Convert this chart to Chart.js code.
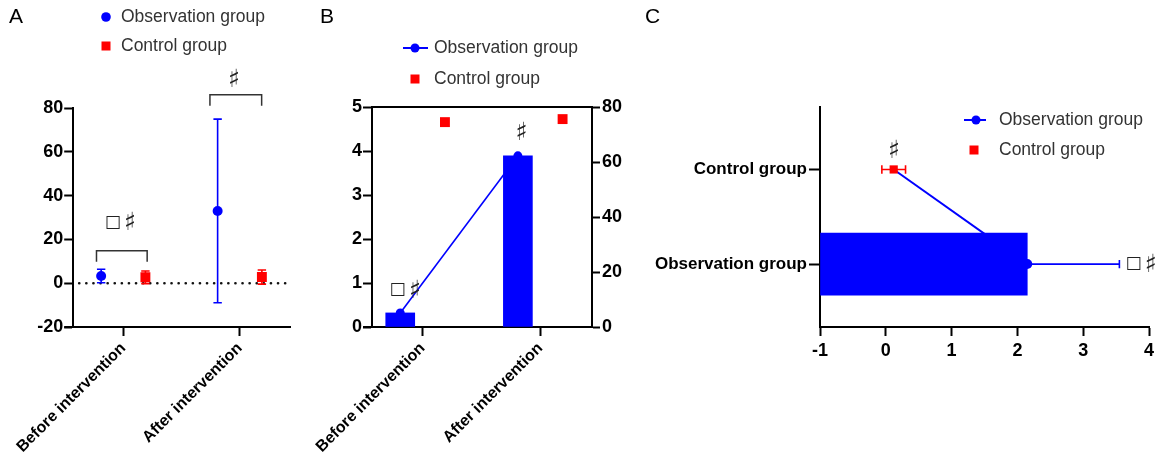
<!DOCTYPE html>
<html><head><meta charset="utf-8">
<script src="https://cdn.jsdelivr.net/npm/chart.js@4.4.1/dist/chart.umd.min.js"></script>
<style>
html,body{margin:0;padding:0;background:#fff;}
#wrap{position:relative;width:1159px;height:460px;overflow:hidden;background:#fff;}
#wrap canvas{position:absolute;left:0;top:0;}
</style></head><body>
<div id="wrap">
<canvas id="cA" width="1159" height="460"></canvas>
<canvas id="cB" width="1159" height="460"></canvas>
<canvas id="cC" width="1159" height="460"></canvas>
</div>
<script>
// ---------------- DATA ----------------
const timeCategories = ['Before intervention', 'After intervention'];
const groupCategories = ['Observation group', 'Control group'];
// Panel A (mean ± SD)
const aObsMean = [3.3, 33.0];
const aObsSD   = [3.1, 41.9];
const aCtrlMean = [2.7, 2.8];
const aCtrlSD   = [2.9, 3.2];
const aYTicks = [-20, 0, 20, 40, 60, 80];
// Panel B
const bObsValues = [0.32, 3.89];     // left axis (bars + line)
const bCtrlValues = [74.5, 75.6];    // right axis
const bLeftTicks = [0, 1, 2, 3, 4, 5];
const bRightTicks = [0, 20, 40, 60, 80];
// Panel C (index by groupCategories)
const cMean = [2.15, 0.12];
const cSD   = [1.40, 0.18];
const cXTicks = [-1, 0, 1, 2, 3, 4];

// ---------------- STYLE ----------------
const FONT = '"Liberation Sans", Arial, Helvetica, sans-serif';
const SYM_FONT = '"DejaVu Sans", sans-serif';
const BLUE = '#0000FF', RED = '#FF0000', INK = '#000';
const DODGE = 0.19;
Chart.defaults.font.family = FONT;
Chart.defaults.color = INK;
Chart.defaults.animation = false;
Chart.defaults.plugins.legend.display = false;
Chart.defaults.plugins.tooltip.enabled = false;

const tickFont = {family: FONT, size: 18, weight: 'bold'};
const cTickFont = {family: FONT, size: 17, weight: 'bold'};
const catFont = {family: FONT, size: 16, weight: 'bold'};
const axisBorder = {display: true, color: INK, width: 2};
function gridTicks(len) {
  return {display: true, drawOnChartArea: false, drawTicks: true, tickLength: len, tickWidth: 2, tickColor: INK, offset: false};
}
function setTicks(arr) { return (s) => { s.ticks = arr.map(v => ({value: v})); }; }

// ---------------- helpers ----------------
function drawLegend(ctx, items) {
  ctx.save();
  ctx.font = '17.5px ' + FONT;
  ctx.textBaseline = 'middle';
  ctx.textAlign = 'left';
  items.forEach(it => {
    ctx.fillStyle = it.color; ctx.strokeStyle = it.color;
    if (it.kind === 'line') {
      ctx.lineWidth = 2;
      ctx.beginPath(); ctx.moveTo(it.lx0, it.y); ctx.lineTo(it.lx1, it.y); ctx.stroke();
      ctx.beginPath(); ctx.arc(it.mx, it.y, 4.5, 0, Math.PI * 2); ctx.fill();
    } else if (it.kind === 'circle') {
      ctx.beginPath(); ctx.arc(it.mx, it.y, 4.8, 0, Math.PI * 2); ctx.fill();
    } else {
      ctx.fillRect(it.mx - 4.5, it.y - 4.5, 9, 9);
    }
    ctx.fillStyle = '#333';
    ctx.fillText(it.text, it.tx, it.y + 0.5);
  });
  ctx.restore();
}
function drawLetter(ctx, t, x, y) {
  ctx.save(); ctx.font = '21px ' + FONT; ctx.fillStyle = INK;
  ctx.textBaseline = 'middle'; ctx.textAlign = 'left';
  ctx.fillText(t, x, y); ctx.restore();
}
function symFont(ch) { return ch === '\u266F' ? '25px ' + SYM_FONT : '17px ' + SYM_FONT; }
function drawTexts(chart, xs, ys, texts) {
  const ctx = chart.ctx;
  ctx.save(); ctx.fillStyle = '#222';
  ctx.textAlign = 'left'; ctx.textBaseline = 'middle';
  texts.forEach(t => {
    const chars = Array.from(t.text);
    const gap = 3;
    let total = 0;
    const widths = chars.map(c => { ctx.font = symFont(c); const w = ctx.measureText(c).width; total += w; return w; });
    total += gap * (chars.length - 1);
    let x = xs.getPixelForValue(t.x) - total / 2;
    const y = ys.getPixelForValue(t.y);
    chars.forEach((c, i) => {
      ctx.font = symFont(c);
      ctx.fillText(c, x, y + (c === '\u266F' ? 1 : 0));
      x += widths[i] + gap;
    });
  });
  ctx.restore();
}
function errorBars(chart, dsIndex, sd, color, horizontal, cap, width) {
  const meta = chart.getDatasetMeta(dsIndex);
  const ds = chart.data.datasets[dsIndex];
  const ctx = chart.ctx;
  const vScale = horizontal ? chart.scales[meta.xAxisID] : chart.scales[meta.yAxisID];
  ctx.save(); ctx.strokeStyle = color; ctx.lineWidth = width;
  meta.data.forEach((el, i) => {
    const raw = ds.data[i];
    const v = horizontal ? raw.x : raw.y;
    const lo = vScale.getPixelForValue(v - sd[i]);
    const hi = vScale.getPixelForValue(v + sd[i]);
    ctx.beginPath();
    if (horizontal) {
      const y = el.y;
      ctx.moveTo(lo, y); ctx.lineTo(hi, y);
      ctx.moveTo(lo, y - cap); ctx.lineTo(lo, y + cap);
      ctx.moveTo(hi, y - cap); ctx.lineTo(hi, y + cap);
    } else {
      const x = el.x;
      ctx.moveTo(x, lo); ctx.lineTo(x, hi);
      ctx.moveTo(x - cap, lo); ctx.lineTo(x + cap, lo);
      ctx.moveTo(x - cap, hi); ctx.lineTo(x + cap, hi);
    }
    ctx.stroke();
  });
  ctx.restore();
}

// ---------------- PANEL A ----------------
const aBrackets = [
  {from: -0.23, to: 0.205, top: 14.8},
  {from: 0.744, to: 1.188, top: 86.1}
];
const aTexts = [
  {x: -0.026, y: 27.7, text: '\u25A1\u266F'},
  {x: 0.949, y: 93.2, text: '\u266F'}
];
const pluginA = {
  id: 'panelA',
  beforeDatasetsDraw(chart) {
    const ctx = chart.ctx, a = chart.chartArea, ys = chart.scales.y;
    const y0 = ys.getPixelForValue(0);
    ctx.save(); ctx.strokeStyle = '#111'; ctx.lineWidth = 2.6; ctx.lineCap = 'round';
    ctx.setLineDash([0.1, 7]);
    ctx.beginPath(); ctx.moveTo(a.left + 6, y0); ctx.lineTo(a.right, y0); ctx.stroke();
    ctx.restore();
    errorBars(chart, 0, aObsSD, BLUE, false, 4.2, 1.6);
    errorBars(chart, 1, aCtrlSD, RED, false, 4.2, 1.6);
  },
  afterDraw(chart) {
    const ctx = chart.ctx, a = chart.chartArea, xs = chart.scales.x, ys = chart.scales.y;
    ctx.save(); ctx.strokeStyle = INK; ctx.lineWidth = 2;
    ctx.beginPath(); ctx.moveTo(a.left - 9, a.bottom); ctx.lineTo(a.left, a.bottom); ctx.stroke();
    ctx.strokeStyle = '#333'; ctx.lineWidth = 1.5;
    aBrackets.forEach(b => {
      const x0 = xs.getPixelForValue(b.from), x1 = xs.getPixelForValue(b.to), y = ys.getPixelForValue(b.top);
      ctx.beginPath(); ctx.moveTo(x0, y + 11); ctx.lineTo(x0, y); ctx.lineTo(x1, y); ctx.lineTo(x1, y + 11); ctx.stroke();
    });
    ctx.restore();
    drawTexts(chart, xs, ys, aTexts);
    drawLetter(ctx, 'A', 9, 17);
    drawLegend(ctx, [
      {kind: 'circle', color: BLUE, mx: 106, tx: 121, y: 17, text: groupCategories[0]},
      {kind: 'rect', color: RED, mx: 106, tx: 121, y: 46, text: groupCategories[1]}
    ]);
  }
};
new Chart(document.getElementById('cA'), {
  type: 'scatter',
  data: {
    datasets: [
      {label: groupCategories[0], data: aObsMean.map((v, i) => ({x: i - DODGE, y: v})),
       backgroundColor: BLUE, borderColor: BLUE, pointStyle: 'circle', pointRadius: 5, borderWidth: 0},
      {label: groupCategories[1], data: aCtrlMean.map((v, i) => ({x: i + DODGE, y: v})),
       backgroundColor: RED, borderColor: RED, pointStyle: 'rect', pointRadius: 7, borderWidth: 0}
    ]
  },
  options: {
    responsive: false,
    layout: {autoPadding: false, padding: {left: 0, top: 108, right: 868, bottom: 0}},
    scales: {
      x: {type: 'linear', min: -0.43, max: 1.44, offset: false,
          afterBuildTicks: setTicks([0, 1]), afterFit: s => { s.height = 133; },
          ticks: {callback: v => timeCategories[v], minRotation: 45, maxRotation: 45, autoSkip: false, padding: 3, font: catFont, color: INK},
          grid: gridTicks(9), border: axisBorder},
      y: {type: 'linear', min: -20, max: 80,
          afterBuildTicks: setTicks(aYTicks), afterFit: s => { s.width = 72; },
          ticks: {padding: 1, font: tickFont, color: INK},
          grid: gridTicks(9), border: axisBorder}
    }
  },
  plugins: [pluginA]
});

// ---------------- PANEL B ----------------
const bTexts = [
  {x: -0.148, y: 0.84, text: '\u25A1\u266F'},
  {x: 0.84, y: 4.42, text: '\u266F'}
];
const pluginB = {
  id: 'panelB',
  afterDraw(chart) {
    const ctx = chart.ctx, a = chart.chartArea;
    ctx.save(); ctx.strokeStyle = INK; ctx.lineWidth = 2;
    ctx.beginPath(); ctx.moveTo(a.left - 9, a.bottom); ctx.lineTo(a.left, a.bottom); ctx.stroke();
    ctx.beginPath(); ctx.moveTo(a.left, a.top); ctx.lineTo(a.right, a.top); ctx.stroke();
    ctx.restore();
    drawTexts(chart, chart.scales.x, chart.scales.y, bTexts);
    drawLetter(ctx, 'B', 320, 17);
    drawLegend(ctx, [
      {kind: 'line', color: BLUE, lx0: 403, lx1: 428, mx: 415, tx: 434, y: 48, text: groupCategories[0]},
      {kind: 'rect', color: RED, mx: 415, tx: 434, y: 79, text: groupCategories[1]}
    ]);
  }
};
new Chart(document.getElementById('cB'), {
  type: 'bar',
  data: {
    datasets: [
      {type: 'scatter', label: groupCategories[1], yAxisID: 'y1',
       data: bCtrlValues.map((v, i) => ({x: i + DODGE, y: v})),
       backgroundColor: RED, borderColor: RED, pointStyle: 'rect', pointRadius: 7, borderWidth: 0},
      {type: 'line', label: groupCategories[0], yAxisID: 'y',
       data: bObsValues.map((v, i) => ({x: i - DODGE, y: v})),
       borderColor: BLUE, backgroundColor: BLUE, borderWidth: 1.6, pointRadius: 4.5, pointBorderWidth: 0, tension: 0, fill: false},
      {type: 'bar', label: groupCategories[0], yAxisID: 'y',
       data: bObsValues.map((v, i) => ({x: i - DODGE, y: v})),
       backgroundColor: BLUE, borderWidth: 0, barThickness: 29}
    ]
  },
  options: {
    responsive: false,
    layout: {autoPadding: false, padding: {left: 300, top: 107, right: 517, bottom: 0}},
    scales: {
      x: {type: 'linear', min: -0.43, max: 1.44, offset: false,
          afterBuildTicks: setTicks([0, 1]), afterFit: s => { s.height = 133; },
          ticks: {callback: v => timeCategories[v], minRotation: 45, maxRotation: 45, autoSkip: false, padding: 3, font: catFont, color: INK},
          grid: gridTicks(9), border: axisBorder},
      y: {type: 'linear', position: 'left', min: 0, max: 5,
          afterBuildTicks: setTicks(bLeftTicks), afterFit: s => { s.width = 72; },
          ticks: {padding: 1, font: tickFont, color: INK},
          grid: gridTicks(9), border: axisBorder},
      y1: {type: 'linear', position: 'right', min: 0, max: 80,
          afterBuildTicks: setTicks(bRightTicks), afterFit: s => { s.width = 50; },
          ticks: {padding: 2, font: tickFont, color: INK},
          grid: gridTicks(8), border: axisBorder}
    }
  },
  plugins: [pluginB]
});

// ---------------- PANEL C ----------------
const cTexts = [
  {x: 0.12, y: 1.204, text: '\u266F'},
  {x: 3.88, y: 0, text: '\u25A1\u266F'}
];
const pluginC = {
  id: 'panelC',
  beforeDatasetsDraw(chart) {
    errorBars(chart, 1, [cSD[0]], BLUE, true, 4.2, 1.6);
    errorBars(chart, 0, [cSD[1]], RED, true, 4.2, 1.6);
  },
  afterDraw(chart) {
    const ctx = chart.ctx;
    drawTexts(chart, chart.scales.x, chart.scales.y, cTexts);
    drawLetter(ctx, 'C', 645, 17);
    drawLegend(ctx, [
      {kind: 'line', color: BLUE, lx0: 964, lx1: 986, mx: 976, tx: 999, y: 120, text: groupCategories[0]},
      {kind: 'rect', color: RED, mx: 974, tx: 999, y: 150, text: groupCategories[1]}
    ]);
  }
};
new Chart(document.getElementById('cC'), {
  type: 'bar',
  data: {
    datasets: [
      {type: 'scatter', label: groupCategories[1],
       data: [{x: cMean[1], y: 1}],
       backgroundColor: RED, borderColor: RED, pointStyle: 'rect', pointRadius: 5.8, borderWidth: 0},
      {type: 'bar', label: groupCategories[0],
       data: [{x: cMean[0], y: 0}], base: -1,
       backgroundColor: BLUE, borderWidth: 0, barThickness: 62},
      {type: 'line', label: groupCategories[0],
       data: groupCategories.map((g, i) => ({x: cMean[i], y: i})),
       borderColor: BLUE, backgroundColor: BLUE, borderWidth: 2, pointRadius: [5, 0], pointBorderWidth: 0, tension: 0, fill: false}
    ]
  },
  options: {
    responsive: false,
    indexAxis: 'y',
    layout: {autoPadding: false, padding: {left: 620, top: 107, right: 10, bottom: 0}},
    scales: {
      x: {type: 'linear', min: -1, max: 4, offset: false,
          afterBuildTicks: setTicks(cXTicks), afterFit: s => { s.height = 133; },
          ticks: {padding: 4, font: tickFont, color: INK, maxRotation: 0},
          grid: gridTicks(9), border: axisBorder},
      y: {type: 'linear', min: -0.665, max: 1.66, offset: false,
          afterBuildTicks: setTicks([0, 1]), afterFit: s => { s.width = 200; },
          ticks: {callback: v => groupCategories[v], padding: 2, font: cTickFont, color: INK},
          grid: gridTicks(11), border: axisBorder}
    }
  },
  plugins: [pluginC]
});
</script>
</body></html>
